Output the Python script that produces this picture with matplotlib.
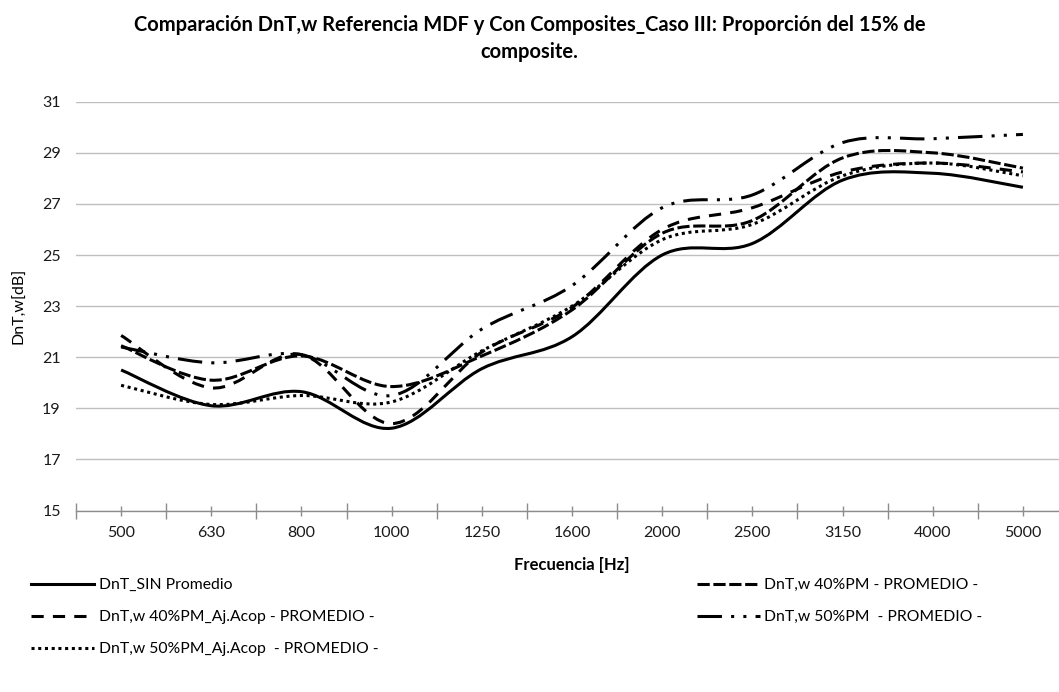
import numpy as np
import matplotlib
matplotlib.use('Agg')
from matplotlib import pyplot as plt
from matplotlib.path import Path
from matplotlib.patches import PathPatch
from matplotlib.lines import Line2D

plt.rcParams['font.family'] = ['Lato', 'DejaVu Sans']

freqs = ['500', '630', '800', '1000', '1250', '1600', '2000', '2500', '3150', '4000', '5000']
sin_prom = [20.5, 19.1, 19.65, 18.22, 20.55, 21.8, 25.0, 25.45, 27.93, 28.2, 27.65]
pm40 = [21.45, 20.1, 21.05, 19.85, 21.05, 22.85, 25.85, 26.35, 28.8, 29.0, 28.4]
pm40_aj = [21.85, 19.8, 21.1, 18.4, 21.2, 22.95, 26.0, 26.85, 28.25, 28.6, 28.25]
pm50 = [21.4, 20.78, 21.1, 19.5, 22.1, 23.8, 26.85, 27.35, 29.4, 29.55, 29.72]
pm50_aj = [19.9, 19.15, 19.5, 19.25, 21.25, 23.0, 25.6, 26.2, 28.1, 28.6, 28.1]

labels = ['DnT_SIN Promedio', 'DnT,w 40%PM - PROMEDIO -',
          'DnT,w 40%PM_Aj.Acop - PROMEDIO -', 'DnT,w 50%PM  - PROMEDIO -',
          'DnT,w 50%PM_Aj.Acop  - PROMEDIO -']
styles = ['-', (0, (4, 1.2)), (0, (4, 3)), (0, (8, 3, 1, 3, 1, 3)), (0, (1, 1.2))]

lw = 2.2


def smooth_path(xs, ys):
    # excel-like smoothed line (bezier through the points)
    pts = list(zip(xs, ys))
    n = len(pts)
    verts = [pts[0]]
    codes = [Path.MOVETO]
    for i in range(n - 1):
        p0 = pts[i - 1] if i > 0 else pts[i]
        p1 = pts[i]
        p2 = pts[i + 1]
        p3 = pts[i + 2] if i + 2 < n else pts[i + 1]
        c1 = (p1[0] + (p2[0] - p0[0]) / 6, p1[1] + (p2[1] - p0[1]) / 6)
        c2 = (p2[0] - (p3[0] - p1[0]) / 6, p2[1] - (p3[1] - p1[1]) / 6)
        verts += [c1, c2, p2]
        codes += [Path.CURVE4] * 3
    return Path(verts, codes)


fig = plt.figure(figsize=(10.59, 6.92), dpi=100)
ax = fig.add_axes([76 / 1059, 1 - 510.5 / 692, 992 / 1059, 408.8 / 692])

x = np.arange(len(freqs))
handles = []
for ys, ls, lab in zip([sin_prom, pm40, pm40_aj, pm50, pm50_aj], styles, labels):
    p = PathPatch(smooth_path(x, ys), fill=False, color='black', lw=lw,
                  linestyle=ls, transform=ax.transData, zorder=3)
    ax.add_patch(p)
    handles.append(Line2D([], [], color='black', lw=lw, linestyle=ls, label=lab))

ax.set_xlim(-0.5, len(freqs) - 0.5)
ax.set_ylim(15, 31)
ax.set_yticks(np.arange(15, 32, 2))
ax.grid(axis='y', color='#bfbfbf', lw=1)
ax.set_axisbelow(True)

ax.set_xticks(np.arange(-0.5, len(freqs), 1))
ax.set_xticklabels([])
ax.set_xticks(x, minor=True)
ax.set_xticklabels(freqs, minor=True)
ax.tick_params(axis='x', which='major', direction='inout', length=12, width=1, color='#8c8c8c')
ax.tick_params(axis='x', which='minor', direction='inout', length=7, width=1, color='#8c8c8c',
               labelsize=11.5, pad=8, labelcolor='#1a1a1a')
ax.tick_params(axis='y', length=0, pad=11, labelsize=11.5, labelcolor='#1a1a1a')

for s in ['top', 'right', 'left']:
    ax.spines[s].set_visible(False)
ax.spines['bottom'].set_color('#8c8c8c')
ax.spines['bottom'].set_linewidth(1)

ax.set_xlabel('Frecuencia [Hz]', fontsize=12, fontweight='bold', labelpad=12)
ax.set_ylabel('DnT,w[dB]', fontsize=11.5, labelpad=11)

fig.text(0.5, 0.978, 'Comparación DnT,w Referencia MDF y Con Composites_Caso III: Proporción del 15% de\ncomposite.',
         ha='center', va='top', fontsize=14.5, fontweight='bold', linespacing=1.45)

order = [0, 2, 4, 1, 3]
fig.legend([handles[i] for i in order], [labels[i] for i in order], ncol=2,
           loc='upper left', bbox_to_anchor=(17 / 1059, 1 - 564 / 692),
           frameon=False, fontsize=11.3, handlelength=4.0, handletextpad=0.3,
           columnspacing=20.3, labelspacing=1.15, borderpad=0.4)

fig.savefig('out.png', dpi=100)
